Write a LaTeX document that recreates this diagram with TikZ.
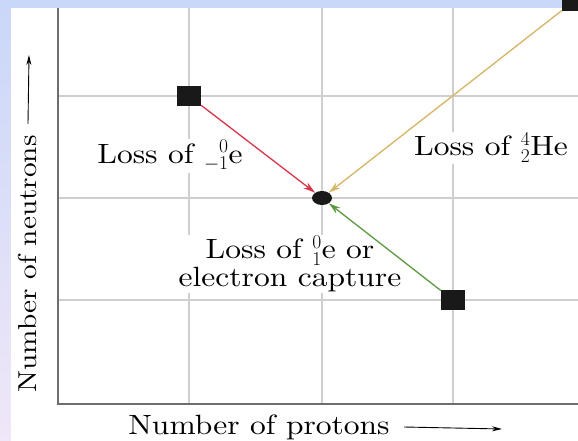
\RequirePackage{fix-cm}
\documentclass[tikz,border=0pt]{standalone}
\usepackage{fontspec}
\setmainfont{lmroman10-regular.otf}[FakeStretch=1.13]
\usetikzlibrary{arrows.meta, shapes.geometric}

\definecolor{bgtop}{HTML}{C9D7F8}
\definecolor{bgbot}{HTML}{F0E7F8}
\definecolor{gridgray}{HTML}{CFCFCF}
\definecolor{axisgray}{HTML}{6E6E6E}
\definecolor{lossred}{HTML}{D8354B}
\definecolor{losstan}{HTML}{D6B566}
\definecolor{lossgreen}{HTML}{5C9A42}

\begin{document}
\begin{tikzpicture}[
    x=1bp, y=-1bp,
    font=\fontsize{28}{28}\selectfont,
    grid/.style={draw=gridgray, line width=1.5bp},
    axis/.style={draw=axisgray, line width=2.5bp},
    nucleus/.style={fill=black!90, minimum width=24bp, minimum height=20bp, inner sep=0pt},
    product/.style={ellipse, fill=black!90, minimum width=20bp, minimum height=14bp, inner sep=0pt},
    decay/.style={-{Stealth[length=12bp, width=7bp]}, line width=1.3bp},
    lbl/.style={fill=white, inner sep=1bp, align=center},
    axlbl/.style={-{Stealth[length=10bp, width=5bp]}, line width=0.9bp}
]

% -- page and background --
\useasboundingbox (0,0) rectangle (578,441);
\shade[top color=bgtop, bottom color=bgbot] (0,0) rectangle (578,441);
\fill[white] (11,8) rectangle (578,441);

% -- grid and axes --
\foreach \gx in {189,322,453} \draw[grid] (\gx,8) -- (\gx,404);
\foreach \gy in {96,198,300} \draw[grid] (58,\gy) -- (578,\gy);
\draw[axis] (58,8) -- (58,404) -- (578,404);

% -- decay labels --
\node[lbl] (betalbl) at (170,156) {Loss of ${}^{\phantom{-}0}_{-1}$e};
\node[lbl] (alphalbl) at (491,148) {Loss of ${}^{4}_{2}$He};
\node[lbl] (positronlbl) at (290,264) {Loss of ${}^{0}_{1}$e or\\electron capture};

% -- nuclei --
\node[nucleus] (redsq) at (189,96) {};
\node[nucleus] (greensq) at (453,300) {};
\node[nucleus] (tansq) at (574,1) {};
\node[product] (dot) at (322,198) {};

% -- decay arrows --
\draw[decay, lossred] (redsq) -- (dot);
\draw[decay, losstan] (tansq) -- (dot);
\draw[decay, lossgreen] (greensq) -- (dot);

% -- axis labels --
\node[rotate=90, font=\fontsize{26}{28}\selectfont] (ylbl) at (28,264) {Number of neutrons};
\coordinate (ytip) at (29,55);
\draw[axlbl] ([yshift=8bp]ylbl.east) -- (ytip);

\node (xlbl) at (259,427) {Number of protons};
\coordinate (xtip) at (502,429);
\draw[axlbl] ([xshift=11bp]xlbl.east) -- (xtip);

\end{tikzpicture}
\end{document}
